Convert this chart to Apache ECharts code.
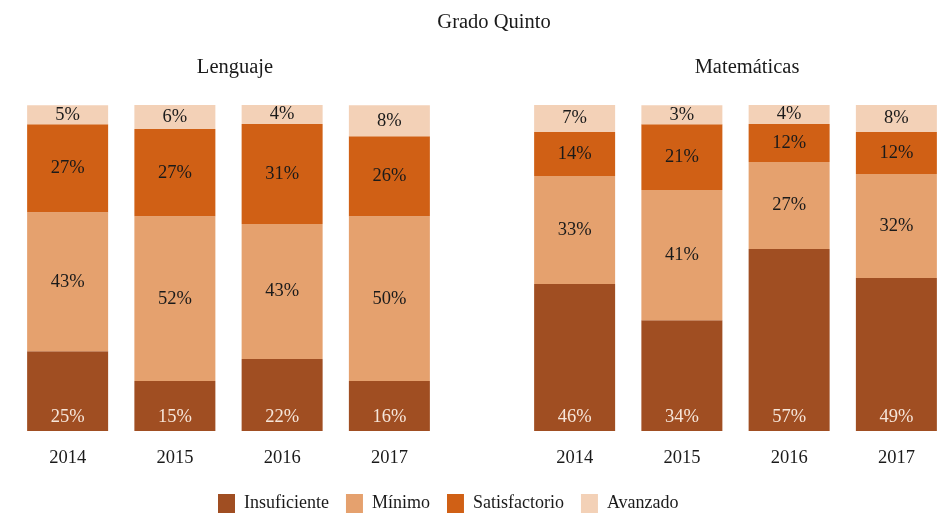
<!DOCTYPE html>
<html>
<head>
<meta charset="utf-8">
<script src="https://cdn.jsdelivr.net/npm/echarts@6/dist/echarts.min.js"></script>
<style>
  html, body { margin: 0; padding: 0; background: #fff; }
  #eChart { width: 944px; height: 521px; }
</style>
</head>
<body>
<div id="eChart"></div>
<script>
var years = ['2014', '2015', '2016', '2017'];
var levels = ['Insuficiente', 'Mínimo', 'Satisfactorio', 'Avanzado'];

// bar heights (share of the bar, %)
var lengInsuficiente = [24.5, 15.3, 22.1, 15.3];
var lengMinimo = [42.6, 50.6, 41.4, 50.6];
var lengSatisfactorio = [27.0, 26.7, 30.7, 24.5];
var lengAvanzado = [5.8, 7.4, 5.8, 9.5];

var mateInsuficiente = [45.1, 34.0, 55.8, 46.9];
var mateMinimo = [33.1, 39.9, 26.7, 31.9];
var mateSatisfactorio = [13.5, 20.2, 11.7, 12.9];
var mateAvanzado = [8.3, 5.8, 5.8, 8.3];

// printed labels
var lengInsuficienteLbl = [25, 15, 22, 16];
var lengMinimoLbl = [43, 52, 43, 50];
var lengSatisfactorioLbl = [27, 27, 31, 26];
var lengAvanzadoLbl = [5, 6, 4, 8];

var mateInsuficienteLbl = [46, 34, 57, 49];
var mateMinimoLbl = [33, 41, 27, 32];
var mateSatisfactorioLbl = [14, 21, 12, 12];
var mateAvanzadoLbl = [7, 3, 4, 8];

var colors = ['#a04e22', '#e5a16e', '#d06015', '#f3d1b7'];
var FONT = 'Liberation Serif';

function makeSeries(name, idx, values, labels, color, stack) {
  var bottom = idx === 0;
  return {
    name: name,
    type: 'bar',
    stack: stack,
    barWidth: 81,
    itemStyle: { color: color },
    label: {
      show: true,
      position: bottom ? 'insideBottom' : 'inside',
      distance: 4,
      fontFamily: FONT,
      fontSize: 18.5,
      color: bottom ? '#f6e6da' : '#1a1a1a',
      formatter: function (p) { return labels[p.dataIndex] + '%'; }
    },
    emphasis: { disabled: true },
    data: values
  };
}

function panel(gridIdx, sets, lbls, stack) {
  return sets.map(function (vals, i) {
    var s = makeSeries(levels[i], i, vals, lbls[i], colors[i], stack);
    s.xAxisIndex = gridIdx;
    s.yAxisIndex = gridIdx;
    return s;
  });
}

var chart = echarts.init(document.getElementById('eChart'));

var series = panel(0,
  [lengInsuficiente, lengMinimo, lengSatisfactorio, lengAvanzado],
  [lengInsuficienteLbl, lengMinimoLbl, lengSatisfactorioLbl, lengAvanzadoLbl], 'l')
  .concat(panel(1,
  [mateInsuficiente, mateMinimo, mateSatisfactorio, mateAvanzado],
  [mateInsuficienteLbl, mateMinimoLbl, mateSatisfactorioLbl, mateAvanzadoLbl], 'm'));

function xAx(i) {
  return {
    gridIndex: i,
    type: 'category',
    data: years,
    axisLine: { show: false },
    axisTick: { show: false },
    axisLabel: { fontFamily: FONT, fontSize: 18.5, color: '#1a1a1a', margin: 18 }
  };
}
function yAx(i) {
  return { gridIndex: i, type: 'value', min: 0, max: 100, show: false };
}

var titleStyle = { fontFamily: FONT, fontSize: 20.5, fontWeight: 'normal', color: '#1a1a1a' };

var option = {
  animation: false,
  title: [
    { text: 'Grado Quinto', left: 489, top: 7, textAlign: 'center', textStyle: titleStyle },
    { text: 'Lenguaje', left: 230, top: 52, textAlign: 'center', textStyle: titleStyle },
    { text: 'Matemáticas', left: 742, top: 52, textAlign: 'center', textStyle: titleStyle }
  ],
  legend: {
    data: levels,
    left: 213,
    top: 489,
    itemWidth: 17,
    itemHeight: 19,
    itemGap: 17,
    icon: 'rect',
    textStyle: { fontFamily: FONT, fontSize: 18, color: '#1a1a1a', padding: [0, 0, 0, 4] }
  },
  grid: [
    { left: 14, top: 105, width: 429, bottom: 90, outerBoundsMode: 'none' },
    { left: 521, top: 105, width: 429, bottom: 90, outerBoundsMode: 'none' }
  ],
  xAxis: [xAx(0), xAx(1)],
  yAxis: [yAx(0), yAx(1)],
  series: series
};

chart.setOption(option);
</script>
</body>
</html>
